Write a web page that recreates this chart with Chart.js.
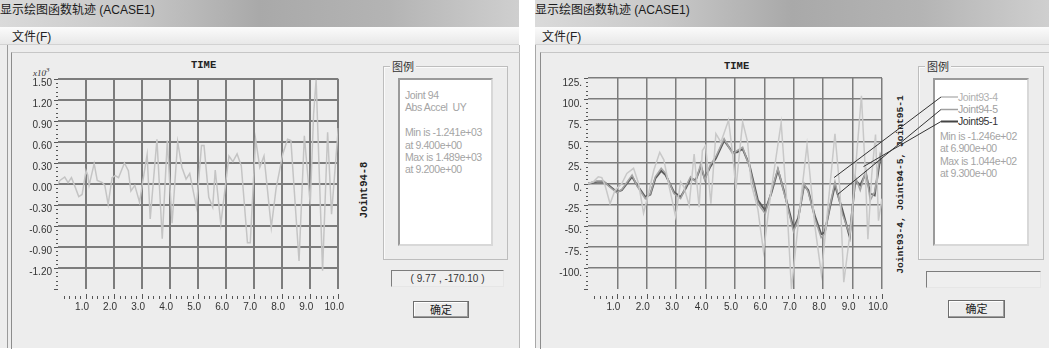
<!DOCTYPE html>
<html>
<head>
<meta charset="utf-8">
<script src="https://cdn.jsdelivr.net/npm/chart.js@4.4.1/dist/chart.umd.min.js"></script>
<style>
  body { margin:0; width:1049px; height:352px; background:#fff; position:relative; overflow:hidden;
         font-family:"Liberation Sans", Arial, sans-serif; }
  .a { position:absolute; }
  .tb { top:0; height:27px; line-height:30px; font:12px "Liberation Sans", "Noto Sans CJK SC", sans-serif; color:#1b1b1b;
        background:linear-gradient(to right, #dadada 0%, #c8c8c8 25%, #a9a9a9 50%, #b4b4b4 75%, #cfcfcf 100%); }
  .mb { top:27px; height:18px; line-height:18px; font:12px "Liberation Sans", "Noto Sans CJK SC", sans-serif; color:#222;
        background:linear-gradient(#fbfbfb, #e8e8e8); border-bottom:1px solid #d2d2d2; box-sizing:border-box; }
  .cl { top:45px; height:303px; background:#ededed; }
  .frame { border-left:1px solid #8c8c8c; border-top:1px solid #c6c6c6; }
  .grp { border:1px solid #bdbdbd; box-shadow:inset 1px 1px #fafafa; box-sizing:border-box; }
  .grp span { position:absolute; top:-8px; left:6px; background:#ededed; padding:0 2px;
              font:11px "Noto Sans CJK SC", sans-serif; color:#333; line-height:14px; }
  .wb { background:#fff; border:2px solid; border-color:#9a9a9a #d8d8d8 #d8d8d8 #9a9a9a; box-sizing:border-box; }
  .lg { font-size:10.5px; color:#a4a4a4; line-height:12.4px; white-space:pre; letter-spacing:-0.4px; }
  .co { border:1px solid; border-color:#7d7d7d #e6e6e6 #e6e6e6 #7d7d7d; background:#efefef; box-sizing:border-box;
        font-size:10px; color:#333; text-align:center; line-height:15px; }
  .bt { border:1px solid #6e6e6e; box-shadow:inset -1px -1px #9d9d9d, inset 1px 1px #fff; background:#ececec;
        box-sizing:border-box; font:11px "Noto Sans CJK SC", sans-serif; text-align:center; line-height:15px; color:#222; }
  .ttl { font:bold 10.5px "Liberation Mono", monospace; color:#222; }
  .rot { font:bold 10.5px "Liberation Mono", monospace; color:#222; transform:rotate(-90deg); transform-origin:center;
         white-space:nowrap; text-align:center; }
  canvas { position:absolute; }
</style>
</head>
<body>
<!-- left window -->
<div class="a tb" style="left:0;width:519px">显示绘图函数轨迹 (ACASE1)</div>
<div class="a mb" style="left:0;width:519px;padding-left:12px">文件(F)</div>
<div class="a cl" style="left:0;width:519px;border-right:1px solid #b8b8b8"></div>
<div class="a" style="left:7px;top:45px;width:0;height:303px;border-left:1px solid #9a9a9a"></div>
<div class="a frame" style="left:11px;top:52px;width:508px;height:296px"></div>
<div class="a ttl" style="left:191px;top:59px">TIME</div>
<div class="a" style="left:33px;top:66px;font:italic 9px 'Liberation Serif',serif;color:#333">x10<sup style="font-size:7px">3</sup></div>
<div class="a rot" style="left:334px;top:184px;width:60px">Joint94-8</div>
<div class="a grp" style="left:383px;top:66px;width:125px;height:194px"><span>图例</span></div>
<div class="a wb" style="left:398px;top:78px;width:95px;height:168px"></div>
<div class="a lg" style="left:405px;top:89px">Joint 94
Abs Accel  UY

Min is -1.241e+03
at 9.400e+00
Max is 1.489e+03
at 9.200e+00</div>
<div class="a co" style="left:391px;top:270px;width:113px;height:17px">( 9.77 , -170.10 )</div>
<div class="a bt" style="left:413px;top:301px;width:56px;height:17px">确定</div>

<!-- right window -->
<div class="a tb" style="left:535px;width:514px">显示绘图函数轨迹 (ACASE1)</div>
<div class="a mb" style="left:535px;width:514px;padding-left:7px">文件(F)</div>
<div class="a cl" style="left:535px;width:514px;border-left:1px solid #a8a8a8"></div>
<div class="a frame" style="left:540px;top:52px;width:509px;height:296px"></div>
<div class="a ttl" style="left:724px;top:60px">TIME</div>
<div class="a rot" style="left:810px;top:179px;width:180px;font-size:9.6px">Joint93-4, Joint94-5, Joint95-1</div>
<div class="a grp" style="left:918px;top:66px;width:126px;height:194px"><span>图例</span></div>
<div class="a wb" style="left:933px;top:78px;width:96px;height:168px"></div>
<div class="a lg" style="left:958px;top:91px;color:#b0b0b0">Joint93-4</div>
<div class="a lg" style="left:958px;top:103px;color:#a0a0a0">Joint94-5</div>
<div class="a lg" style="left:958px;top:115px;color:#333">Joint95-1</div>
<div class="a lg" style="left:940px;top:130px">Min is -1.246e+02
at 6.900e+00
Max is 1.044e+02
at 9.300e+00</div>
<div class="a co" style="left:926px;top:271px;width:115px;height:17px"></div>
<div class="a bt" style="left:948px;top:300px;width:57px;height:18px">确定</div>

<canvas id="cLeft" width="360" height="280" style="left:0;top:50px"></canvas>
<canvas id="cRight" width="519" height="280" style="left:530px;top:50px"></canvas>

<script>
// Joint94-8 加速度 (x10^3), 读图得到的峰谷点 [time, value]
const joint94_8 = [
  [0,0],[0.07,0.05],[0.24,0.10],[0.36,0.02],[0.48,0.09],[0.59,-0.02],[0.74,-0.18],[0.86,-0.15],
  [1.0,0.19],[1.06,0.13],[1.11,-0.02],[1.29,0.29],[1.40,0.05],[1.58,0.02],[1.67,-0.02],[1.79,-0.29],[1.93,0.09],
  [2.04,0.12],[2.16,0.09],[2.37,0.30],[2.51,0.19],[2.60,-0.10],[2.74,-0.02],[2.91,-0.26],
  [3.03,0.05],[3.18,0.42],[3.29,-0.50],[3.53,0.64],[3.72,-0.78],[3.90,0.62],
  [4.07,-0.56],[4.27,0.60],[4.42,0.24],[4.57,0.07],[4.70,0.15],[4.94,-0.33],
  [5.12,0.55],[5.21,0.55],[5.38,-0.19],[5.52,-0.33],[5.61,0.20],[5.81,-0.57],
  [6.10,0.40],[6.24,0.32],[6.39,0.43],[6.54,0.26],[6.76,-0.84],[6.86,-0.84],
  [7.05,0.64],[7.20,0.24],[7.35,0.40],[7.61,-0.62],[7.78,-0.07],
  [8.02,0.43],[8.19,0.64],[8.31,0.62],[8.60,-1.10],[8.79,0.69],
  [9.00,-0.29],[9.12,1.00],[9.21,1.49],[9.44,-1.24],[9.62,0.74],[9.76,-0.43],[10.0,0.80]
];

// 右图三条曲线
const joint93_4 = [
  [0,0],[0.18,2],[0.35,8],[0.47,7],[0.58,-2],[0.75,-24],[0.92,-8],[1.15,0],[1.32,12],[1.55,18],[1.72,0],
  [1.89,-35],[2.03,-16],[2.24,16],[2.44,37],[2.58,28],[2.75,-2],[2.98,-39],[3.15,2],[3.26,-4],[3.44,-26],
  [3.61,35],[3.78,-28],[3.89,39],[4.0,45],[4.18,-24],[4.35,59],[4.52,49],[4.78,75],[4.92,35],[5.03,-6],
  [5.26,73],[5.43,49],[5.55,0],[5.78,-31],[5.97,-81],[6.23,-8],[6.57,72],[6.75,-16],[6.92,-125],[7.2,-31],
  [7.45,46],[7.72,-51],[7.94,-108],[8.17,-24],[8.4,59],[8.57,-8],[8.7,-117],[8.97,-43],[9.14,35],[9.3,104],
  [9.43,16],[9.52,-66],[9.65,10],[9.78,58],[9.88,-44],[10,-18]
];
const joint94_5 = [
  [0,0],[0.3,3],[0.53,3],[0.7,-3],[0.98,-11],[1.15,-7],[1.5,10],[1.67,-3],[1.95,-18],[2.12,-12],[2.29,8],
  [2.49,18],[2.64,12],[2.92,-12],[3.15,-18],[3.32,-4],[3.49,8],[3.66,2],[3.84,24],[3.97,4],[4.16,22],[4.35,32],
  [4.63,53],[4.92,35],[5.07,39],[5.26,43],[5.49,20],[5.78,-24],[6.03,-36],[6.23,-10],[6.46,18],[6.69,-14],
  [6.99,-57],[7.15,-43],[7.35,0],[7.49,-10],[7.72,-42],[7.93,-64],[8.05,-60],[8.23,-26],[8.40,2],[8.65,-36],
  [8.9,-60],[9.09,8],[9.26,-8],[9.45,16],[9.6,-20],[9.75,-10],[9.94,35],[10,30]
];
const joint95_1 = [
  [0,0],[0.3,2],[0.53,2],[0.7,-2],[0.98,-10],[1.15,-8],[1.5,8],[1.67,-2],[1.95,-16],[2.12,-13],[2.29,6],
  [2.49,15],[2.64,10],[2.92,-10],[3.15,-16],[3.32,-6],[3.49,6],[3.66,4],[3.84,20],[3.97,6],[4.16,20],[4.35,30],
  [4.63,51],[4.92,37],[5.07,37],[5.26,41],[5.49,22],[5.78,-20],[6.03,-32],[6.23,-12],[6.46,16],[6.69,-12],
  [6.99,-53],[7.15,-41],[7.35,-2],[7.49,-8],[7.72,-39],[7.93,-60],[8.05,-58],[8.23,-28],[8.40,-2],[8.65,-31],
  [8.9,-63],[9.09,4],[9.26,-2],[9.45,12],[9.6,-12],[9.75,-14],[9.94,30],[10,31]
];
// 图例引线指向的曲线点
const leaderPts = [[8.37,7],[8.49,-13],[9.37,20]];

const toXY = arr => arr.map(([x, y]) => ({ x, y }));
const isInt = v => Math.abs(v - Math.round(v)) < 1e-6;
const tickFont = { family: 'Liberation Sans', size: 10 };

// 坐标轴上的小刻度
const tickMarks = {
  id: 'tickMarks',
  afterDraw(chart, args, o) {
    const { ctx, chartArea: a, scales: { x, y } } = chart;
    ctx.save();
    ctx.strokeStyle = '#555';
    ctx.lineWidth = 1;
    for (let i = 1; i <= 50; i++) {
      const px = Math.round(x.getPixelForValue(i * 0.2)) + 0.5;
      ctx.beginPath();
      ctx.moveTo(px, a.bottom + (i % 5 === 0 ? 5 : 7));
      ctx.lineTo(px, a.bottom + 10);
      ctx.stroke();
    }
    const n = Math.round((o.max - o.min) / o.minor);
    for (let i = 0; i <= n; i++) {
      const py = Math.round(y.getPixelForValue(o.min + i * o.minor)) + 0.5;
      ctx.beginPath();
      ctx.moveTo(a.left - (i % 5 === 0 ? 4 : 2), py);
      ctx.lineTo(a.left, py);
      ctx.stroke();
    }
    ctx.restore();
  }
};

// 图例样线和引线
const leaders = {
  id: 'leaders',
  afterDraw(chart, args, o) {
    const { ctx, scales: { x, y } } = chart;
    ctx.save();
    o.anchors.forEach((an, i) => {
      ctx.strokeStyle = o.colors[i];
      ctx.lineWidth = i === 2 ? 2 : 1.5;
      ctx.beginPath();
      ctx.moveTo(an[0], an[1]);
      ctx.lineTo(an[0] + 17, an[1]);
      ctx.stroke();
      ctx.strokeStyle = '#333';
      ctx.lineWidth = 1;
      ctx.beginPath();
      ctx.moveTo(x.getPixelForValue(leaderPts[i][0]), y.getPixelForValue(leaderPts[i][1]));
      ctx.lineTo(an[0], an[1]);
      ctx.stroke();
    });
    ctx.restore();
  }
};

function opts(yMin, yMax, yStep, fmt, gridW, padRight, yLblOff) {
  return {
    responsive: false,
    animation: false,
    layout: { padding: { left: 0, right: padRight, top: 29, bottom: 0 } },
    plugins: { legend: { display: false }, tooltip: { enabled: false } },
    scales: {
      x: {
        type: 'linear', min: 0, max: 10,
        afterFit: s => { s.height = 41; },
        border: { display: false },
        grid: { color: c => (isInt(c.tick.value) && c.tick.value > 0) ? '#7c7c7c' : 'transparent', lineWidth: gridW, drawTicks: false },
        ticks: { stepSize: 0.2, autoSkip: false, maxRotation: 0, padding: 12, labelOffset: -4, color: '#333', font: tickFont,
                 callback: v => (isInt(v) && v > 0) ? v.toFixed(1) : '' }
      },
      y: {
        min: yMin, max: yMax,
        afterFit: s => { s.width = 58; },
        border: { display: false },
        grid: { color: c => c.tick.value > yMin + 1e-9 ? '#7c7c7c' : 'transparent', lineWidth: gridW, drawTicks: false },
        ticks: { stepSize: yStep, padding: 6, labelOffset: yLblOff, color: '#333', font: tickFont,
                 callback: v => v > yMin + 1e-9 ? fmt(v) : '' }
      }
    }
  };
}

const leftOpts = opts(-1.5, 1.5, 0.3, v => v.toFixed(2), 2, 13, 4);
leftOpts.plugins.tickMarks = { min: -1.5, max: 1.5, minor: 0.06 };
new Chart(document.getElementById('cLeft'), {
  type: 'line',
  data: { datasets: [{ data: toXY(joint94_8), borderColor: '#c4c4c4', borderWidth: 1.5, pointRadius: 0, tension: 0 }] },
  options: leftOpts,
  plugins: [tickMarks]
});

const rightOpts = opts(-125, 125, 25, v => Math.round(v) + '.', 1.5, 167, 5);
rightOpts.layout.padding.top = 28;
rightOpts.plugins.tickMarks = { min: -125, max: 125, minor: 5 };
rightOpts.plugins.leaders = { anchors: [[411, 47], [411, 59.5], [411, 71.5]], colors: ['#b8b8b8', '#a0a0a0', '#444'] };
new Chart(document.getElementById('cRight'), {
  type: 'line',
  data: { datasets: [
    { label: 'Joint93-4', data: toXY(joint93_4), borderColor: '#c8c8c8', borderWidth: 1.5, pointRadius: 0, tension: 0 },
    { label: 'Joint94-5', data: toXY(joint94_5), borderColor: '#a4a4a4', borderWidth: 1.5, pointRadius: 0, tension: 0 },
    { label: 'Joint95-1', data: toXY(joint95_1), borderColor: '#5a5a5a', borderWidth: 2, pointRadius: 0, tension: 0 }
  ] },
  options: rightOpts,
  plugins: [tickMarks, leaders]
});
</script>
</body>
</html>
